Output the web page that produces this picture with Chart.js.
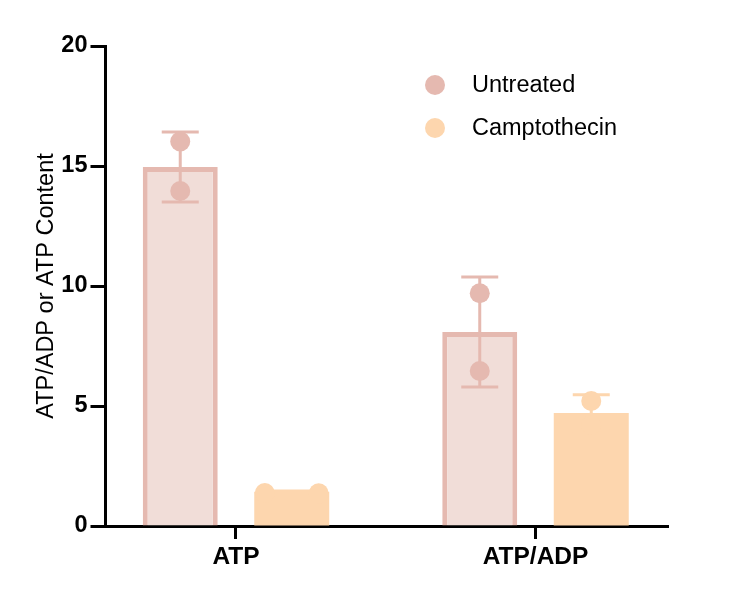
<!DOCTYPE html>
<html><head><meta charset="utf-8">
<script src="https://cdn.jsdelivr.net/npm/chart.js@4/dist/chart.umd.min.js"></script>
<style>html,body{margin:0;padding:0;background:#fff;}#wrap{width:741px;height:592px;}</style>
</head><body><div id="wrap"><canvas id="c" width="741" height="592"></canvas></div>
<script>
// ---- data ----
const categories = ['ATP', 'ATP/ADP'];
const seriesNames = ['Untreated', 'Camptothecin'];
const untreatedMeans = [14.96, 8.08];
const camptothecinMeans = [1.43, 4.71];
const untreatedErrors = [1.46, 2.29];
const camptothecinErrors = [0.03, 0.76];
const untreatedPoints = [[16.02, 13.96], [9.70, 6.46]];
const camptothecinPoints = [[1.37, 1.36], [5.21, 4.21]];
const yTicks = [0, 5, 10, 15, 20];

// ---- style ----
const FONT = '"Liberation Sans", Arial, Helvetica, sans-serif';
const untreatedBorder = '#e5b9b0';
const untreatedFill = '#f1ddd8';
const camptoFill = '#fdd6ae';
const catPct = 0.7446, barPct = 0.6726;
const groupOffset = [-catPct / 4, catPct / 4];
const spread = [[[0, 0], [0, 0]], [[-0.09, 0.09], [0, 0]]]; // horizontal scatter of dots

function dotData(points, s) {
  const out = [];
  points.forEach((vals, i) => vals.forEach((v, k) => out.push({x: i + groupOffset[s] + spread[s][i][k], y: v})));
  return out;
}

const barSets = [
  {label: seriesNames[0], means: untreatedMeans, errs: untreatedErrors, fill: untreatedFill, border: untreatedBorder, bw: 5, dot: untreatedBorder},
  {label: seriesNames[1], means: camptothecinMeans, errs: camptothecinErrors, fill: camptoFill, border: camptoFill, bw: 0, dot: camptoFill}
];

const datasets = [];
barSets.forEach((b, s) => {
  datasets.push({
    type: 'bar', label: b.label, order: 2,
    data: b.means.map((v, i) => ({x: i, y: v})),
    errs: b.errs, errColor: b.dot,
    backgroundColor: b.fill, borderColor: b.border, borderWidth: b.bw, borderSkipped: 'start',
    categoryPercentage: catPct, barPercentage: barPct
  });
});
datasets.push({type: 'scatter', label: seriesNames[0] + ' pts', order: 0, data: dotData(untreatedPoints, 0),
  backgroundColor: untreatedBorder, borderWidth: 0, pointRadius: 10, pointHoverRadius: 10});
datasets.push({type: 'scatter', label: seriesNames[1] + ' pts', order: 0, data: dotData(camptothecinPoints, 1),
  backgroundColor: camptoFill, borderWidth: 0, pointRadius: 10, pointHoverRadius: 10});

const errorBars = {
  id: 'errorBars',
  afterDatasetDraw(chart, args) {
    const ds = chart.data.datasets[args.index];
    if (!ds.errs) return;
    const ctx = chart.ctx, y = chart.scales.y;
    ctx.save();
    ctx.strokeStyle = ds.errColor; ctx.lineWidth = 3;
    args.meta.data.forEach((bar, i) => {
      const m = ds.data[i].y, e = ds.errs[i];
      const top = y.getPixelForValue(m + e), bot = y.getPixelForValue(m - e);
      const cx = bar.x, hw = 18.5;
      ctx.beginPath();
      ctx.moveTo(cx, top); ctx.lineTo(cx, bot);
      ctx.moveTo(cx - hw, top); ctx.lineTo(cx + hw, top);
      ctx.moveTo(cx - hw, bot); ctx.lineTo(cx + hw, bot);
      ctx.stroke();
    });
    ctx.restore();
  }
};

const legendPlugin = {
  id: 'customLegend',
  afterDraw(chart) {
    const ctx = chart.ctx;
    ctx.save();
    ctx.font = '23.5px ' + FONT;
    ctx.textBaseline = 'middle';
    barSets.forEach((b, s) => {
      const y = 85 + s * 43;
      ctx.beginPath(); ctx.fillStyle = b.dot; ctx.arc(435, y, 10, 0, Math.PI * 2); ctx.fill();
      ctx.fillStyle = '#000'; ctx.fillText(b.label, 472, y + 1);
    });
    ctx.restore();
  }
};

new Chart(document.getElementById('c'), {
  type: 'bar',
  data: {datasets},
  options: {
    responsive: false, animation: false,
    layout: {padding: {top: 46, right: 73, left: 0, bottom: 0}},
    plugins: {legend: {display: false}, tooltip: {enabled: false}},
    scales: {
      x: {
        type: 'linear', min: -0.4357, max: 1.4424, bounds: 'data', offset: false,
        afterBuildTicks(scale) { scale.ticks = categories.map((c, i) => ({value: i})); },
        afterFit(scale) { scale.height = 66; },
        ticks: {callback: v => categories[v] ?? '', color: '#000', padding: 4, maxRotation: 0,
          font: {family: FONT, size: 24.5, weight: 'bold'}},
        grid: {display: true, drawOnChartArea: false, drawTicks: true, tickLength: 13, tickWidth: 3, tickColor: '#000', offset: false},
        border: {display: true, width: 3, color: '#000'}
      },
      y: {
        type: 'linear', min: yTicks[0], max: yTicks[yTicks.length - 1],
        afterBuildTicks(scale) { scale.ticks = yTicks.map(v => ({value: v})); },
        afterFit(scale) { scale.width = 105.5; },
        ticks: {color: '#000', padding: 3, font: {family: FONT, size: 23.5, weight: 'bold'}},
        grid: {display: true, drawOnChartArea: false, drawTicks: true, tickLength: 15, tickWidth: 3, tickColor: '#000'},
        border: {display: true, width: 3, color: '#000'},
        title: {display: true, text: 'ATP/ADP or ATP Content', color: '#000', padding: {top: 32, bottom: 0},
          font: {family: FONT, size: 23.5, weight: 'normal'}}
      }
    }
  },
  plugins: [errorBars, legendPlugin]
});
</script></body></html>
